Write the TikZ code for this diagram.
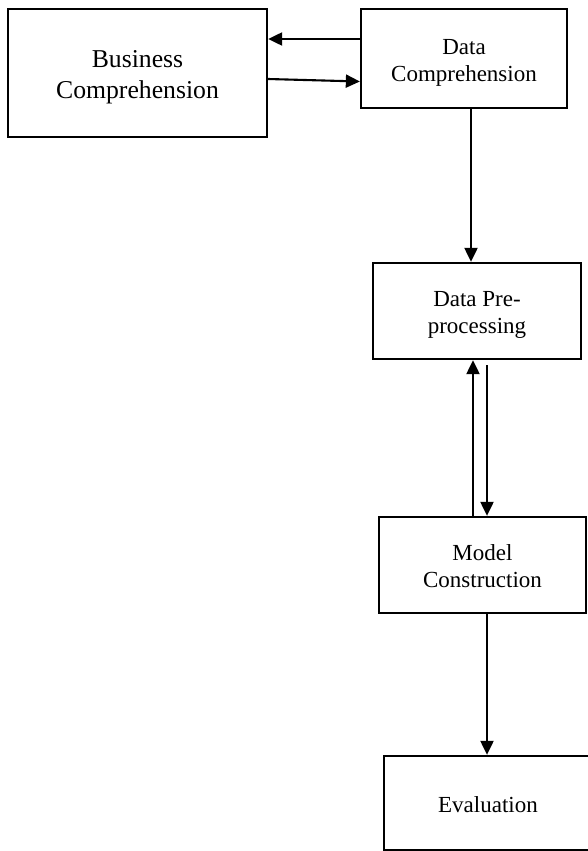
\documentclass[tikz,border=0pt]{standalone}
\usepackage{fontspec}
\setmainfont{Liberation Serif}
\usetikzlibrary{arrows.meta}
\tikzset{
  stepbox/.style={draw=black, line width=2.3pt, rectangle, inner sep=0pt},
  boxtext/.style={align=center, inner sep=0pt, font=\fontsize{23}{27}\selectfont},
  arr/.style={draw=black, line width=2.1pt, -{Triangle[length=14pt,width=13pt]}}
}
\begin{document}
\begin{tikzpicture}[x=1pt,y=-1pt]
\useasboundingbox (0,0) rectangle (588,851);
\node[stepbox, minimum width=259pt, minimum height=128pt] (b1) at (137.5,73) {};
\node[stepbox, minimum width=206pt, minimum height=99pt] (b2) at (464,58.5) {};
\node[stepbox, minimum width=208pt, minimum height=96pt] (b3) at (477,311) {};
\node[stepbox, minimum width=207pt, minimum height=96pt] (b4) at (482.5,565) {};
\node[stepbox, minimum width=208pt, minimum height=94pt] (b5) at (488,803) {};
\node[boxtext, font=\fontsize{25.7}{31}\selectfont] (t1) at ([yshift=-4pt]b1.center) {Business\\Comprehension};
\node[boxtext] (t2) at ([yshift=-4pt]b2.center) {Data\\Comprehension};
\node[boxtext] (t3) at ([yshift=-3.5pt]b3.center) {Data Pre-\\processing};
\node[boxtext] (t4) at ([yshift=-1pt]b4.center) {Model\\Construction};
\node[boxtext] (t5) at ([yshift=-2pt]b5.center) {Evaluation};
\coordinate (c3s) at ([yshift=-5pt]b3.south -| 487,0);
\draw[arr] (b2.west |- 0,39) -- (b1.east |- 0,39);
\draw[arr] (b1.east |- 0,79) -- (b2.west |- 0,81.5);
\draw[arr] (b2.south -| 471,0) -- (b3.north -| 471,0);
\draw[arr] (b4.north -| 473,0) -- (b3.south -| 473,0);
\draw[arr] (c3s) -- (b4.north -| 487,0);
\draw[arr] (b4.south -| 487,0) -- (b5.north -| 487,0);
\end{tikzpicture}
\end{document}
